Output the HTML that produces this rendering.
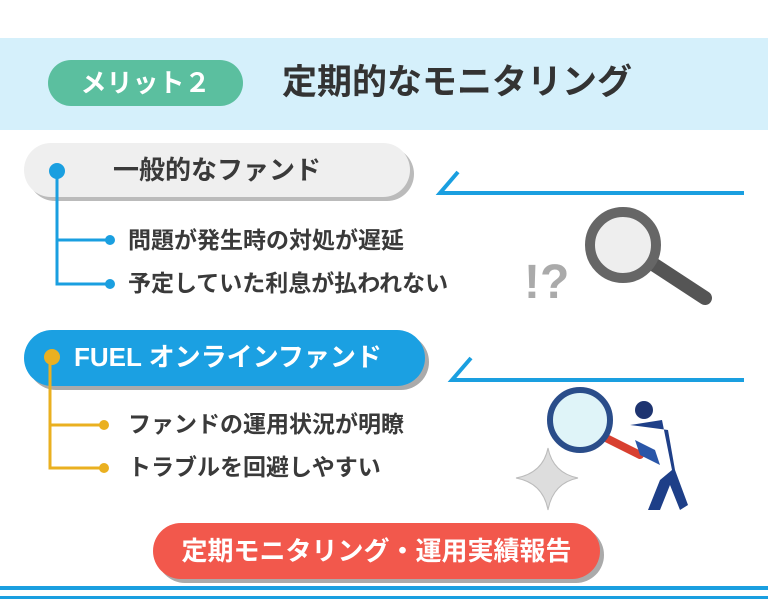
<!DOCTYPE html>
<html><head><meta charset="utf-8"><style>
body{margin:0;width:768px;height:614px;background:#fff;position:relative;overflow:hidden;font-family:"Liberation Sans","Noto Sans CJK JP",sans-serif;font-weight:bold;color:#3a3a3a}
.a{position:absolute;white-space:nowrap}
</style></head><body>
<div class="a" style="left:0;top:38px;width:768px;height:92px;background:#d5f0fb"></div>
<div class="a" style="left:48px;top:60px;width:195px;height:46px;border-radius:23px;background:#5bbf9f;color:#fff;font-size:26px;line-height:46px;text-align:center">メリット２</div>
<div class="a" style="left:282px;top:61px;font-size:35px;line-height:44px;color:#333">定期的なモニタリング</div>

<div class="a" style="left:24px;top:143px;width:386px;height:54px;border-radius:27px;background:#efefef;box-shadow:4px 4px 0 #bbb"></div>
<div class="a" style="left:113px;top:153px;font-size:26px;line-height:34px">一般的なファンド</div>
<div class="a" style="left:128px;top:226px;font-size:23px;line-height:28px">問題が発生時の対処が遅延</div>
<div class="a" style="left:128px;top:269px;font-size:23px;line-height:28px">予定していた利息が払われない</div>

<div class="a" style="left:24px;top:330px;width:401px;height:56px;border-radius:28px;background:#1ba0e2;box-shadow:4px 4px 0 #aaa"></div>
<div class="a" style="left:74px;top:340px;font-size:26px;line-height:34px;color:#fff">FUEL オンラインファンド</div>
<div class="a" style="left:128px;top:410px;font-size:23px;line-height:28px">ファンドの運用状況が明瞭</div>
<div class="a" style="left:128px;top:453px;font-size:23px;line-height:28px">トラブルを回避しやすい</div>

<div class="a" style="left:153px;top:523px;width:447px;height:56px;border-radius:28px;background:#f2584c;box-shadow:4px 4px 0 #aaa;color:#fff;font-size:26px;line-height:56px;text-align:center">定期モニタリング・運用実績報告</div>

<svg class="a" style="left:0;top:0" width="768" height="614">
 <g stroke="#1a9fe0" stroke-width="3" fill="none">
  <path d="M57 171V284H110M57 240H110"/>
  <path d="M458 172L440 193H744" stroke-width="4"/>
  <path d="M471 358L452 380H744" stroke-width="4"/>
 </g>
 <g fill="#1a9fe0"><circle cx="57" cy="171" r="8"/><circle cx="110" cy="240" r="5"/><circle cx="110" cy="284" r="5"/></g>
 <path d="M50 357V468H104M50 425H104" stroke="#eab020" stroke-width="3" fill="none"/>
 <g fill="#eab020"><circle cx="52" cy="357" r="8"/><circle cx="104" cy="425" r="5"/><circle cx="104" cy="468" r="5"/></g>
 <rect x="0" y="586" width="768" height="4" fill="#1a9fe0"/>
 <rect x="0" y="596" width="768" height="3" fill="#1a9fe0"/>
 <text x="524" y="298" font-size="48" fill="#aaa" font-family="Liberation Sans" font-weight="bold">!?</text>
 <line x1="650" y1="262" x2="705" y2="298" stroke="#555" stroke-width="14" stroke-linecap="round"/>
 <circle cx="623" cy="245" r="33" fill="#eee" stroke="#666" stroke-width="10"/>
 <path d="M548 448Q553 473 578 478Q553 483 548 510Q543 483 516 478Q543 473 548 448Z" fill="#ddd" stroke="#bbb"/>
 <line x1="600" y1="435" x2="640" y2="455" stroke="#d84030" stroke-width="8" stroke-linecap="round"/>
 <circle cx="580" cy="420" r="30" fill="#dff4f8" stroke="#2a4d8a" stroke-width="6"/>
 <circle cx="644" cy="410" r="9" fill="#1e3470"/>
 <path d="M630 425L662 420L672 470L660 480L648 510L660 510L670 485L680 510L688 505L675 470L668 430Z" fill="#1e3f88"/>
 <path d="M635 440L655 450L660 465L640 455Z" fill="#2a56a8"/>
</svg>
</body></html>
